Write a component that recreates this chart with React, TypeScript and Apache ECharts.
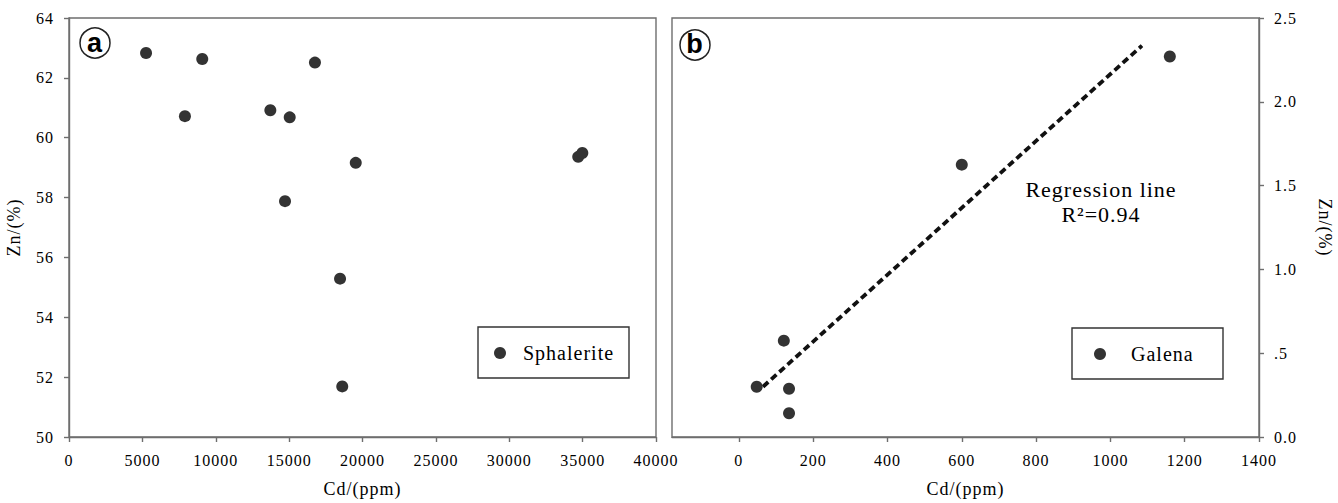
import React, { useEffect, useRef } from "react";
import * as echarts from "echarts";

// Panel (a): sphalerite
const sphaleriteCd = [5250, 9080, 16760, 7900, 13720, 15040, 19540, 14720, 18470, 18620, 34700, 34980];
const sphaleriteZn = [62.83, 62.63, 62.51, 60.72, 60.92, 60.68, 59.16, 57.88, 55.29, 51.69, 59.36, 59.49];

// Panel (b): galena
const galenaCd = [48, 121, 135, 135, 600, 1160];
const galenaZn = [0.3, 0.575, 0.288, 0.142, 1.625, 2.27];

// Regression line end points (panel b)
const regressionCd = [65, 1085];
const regressionZn = [0.3, 2.335];

const leftXTicks = [0, 5000, 10000, 15000, 20000, 25000, 30000, 35000, 40000];
const rightXTicks = [0, 200, 400, 600, 800, 1000, 1200, 1400];

const FONT = "'Liberation Serif', 'Times New Roman', serif";
const AXIS_COLOR = "#6e6e6e";
const TEXT_COLOR = "#000";
const DOT_COLOR = "#333333";

export default function App() {
  const ref = useRef<HTMLDivElement>(null);

  useEffect(() => {
    if (!ref.current) return;
    const chart = echarts.init(ref.current, undefined, { renderer: "svg" });

    const axisCommon = {
      axisLine: { show: true, onZero: false, lineStyle: { color: AXIS_COLOR, width: 1.4 } },
      axisTick: { show: true, inside: false, length: 5, lineStyle: { color: AXIS_COLOR, width: 1.4 } },
      splitLine: { show: false },
      axisLabel: { color: TEXT_COLOR, fontFamily: FONT, fontSize: 16, margin: 15 },
      nameTextStyle: { color: TEXT_COLOR, fontFamily: FONT, fontSize: 18 },
    };

    const option: any = {
      animation: false,
      textStyle: { fontFamily: FONT },
      grid: [
        { left: 69, right: 682, top: 18, bottom: 62, show: true, borderColor: AXIS_COLOR, borderWidth: 1.4 },
        { left: 672, right: 79, top: 18, bottom: 62, show: true, borderColor: AXIS_COLOR, borderWidth: 1.4 },
      ],
      xAxis: [
        {
          ...axisCommon,
          type: "value",
          gridIndex: 0,
          min: 0,
          max: 40000,
          interval: 5000,
          axisTick: { ...axisCommon.axisTick, customValues: leftXTicks },
          axisLabel: { ...axisCommon.axisLabel, customValues: leftXTicks, formatter: (v: number) => String(v) },
          name: "Cd/(ppm)",
          nameLocation: "middle",
          nameGap: 43,
        },
        {
          ...axisCommon,
          type: "value",
          gridIndex: 1,
          min: -180,
          max: 1400,
          axisTick: { ...axisCommon.axisTick, customValues: rightXTicks },
          axisLabel: { ...axisCommon.axisLabel, customValues: rightXTicks, formatter: (v: number) => String(v) },
          name: "Cd/(ppm)",
          nameLocation: "middle",
          nameGap: 43,
        },
      ],
      yAxis: [
        {
          ...axisCommon,
          type: "value",
          gridIndex: 0,
          min: 50,
          max: 64,
          interval: 2,
          name: "Zn/(%)",
          nameLocation: "middle",
          nameGap: 46,
          axisLabel: { ...axisCommon.axisLabel, margin: 15 },
        },
        {
          ...axisCommon,
          type: "value",
          gridIndex: 1,
          position: "right",
          min: 0,
          max: 2.5,
          interval: 0.5,
          name: "Zn/(%)",
          nameLocation: "middle",
          nameGap: 57,
          nameRotate: -90,
          axisLabel: {
            ...axisCommon.axisLabel,
            margin: 15,
            formatter: (v: number) => (v === 0 ? "0.0" : v < 1 ? "." + String(Math.round(v * 10)) : v.toFixed(1)),
          },
        },
      ],
      legend: [
        {
          data: ["Sphalerite"],
          left: 494,
          top: 343,
          padding: 0,
          icon: "circle",
          itemWidth: 12,
          itemHeight: 12,
          selectedMode: false,
          itemStyle: { opacity: 1 },
          textStyle: { color: TEXT_COLOR, fontFamily: FONT, fontSize: 20, padding: [0, 0, 0, 12] },
        },
        {
          data: ["Galena"],
          left: 1094,
          top: 344,
          padding: 0,
          icon: "circle",
          itemWidth: 12,
          itemHeight: 12,
          selectedMode: false,
          itemStyle: { opacity: 1 },
          textStyle: { color: TEXT_COLOR, fontFamily: FONT, fontSize: 20, padding: [0, 0, 0, 20] },
        },
      ],
      series: [
        {
          name: "Sphalerite",
          type: "scatter",
          xAxisIndex: 0,
          yAxisIndex: 0,
          symbol: "circle",
          symbolSize: 12,
          itemStyle: { color: DOT_COLOR, opacity: 1 },
          data: sphaleriteCd.map((c, i) => [c, sphaleriteZn[i]]),
        },
        {
          name: "Regression line",
          type: "line",
          xAxisIndex: 1,
          yAxisIndex: 1,
          symbol: "none",
          lineStyle: { color: "#111", width: 3.8, type: [7, 4] },
          data: regressionCd.map((c, i) => [c, regressionZn[i]]),
          z: 1,
        },
        {
          name: "Galena",
          type: "scatter",
          xAxisIndex: 1,
          yAxisIndex: 1,
          symbol: "circle",
          symbolSize: 12,
          itemStyle: { color: DOT_COLOR, opacity: 1 },
          data: galenaCd.map((c, i) => [c, galenaZn[i]]),
          z: 3,
        },
      ],
      graphic: [
        // legend frames
        { type: "rect", shape: { x: 478, y: 327, width: 151, height: 51 }, style: { fill: "none", stroke: "#333", lineWidth: 1.4 }, z: 0 },
        { type: "rect", shape: { x: 1072, y: 328, width: 151, height: 51 }, style: { fill: "none", stroke: "#333", lineWidth: 1.4 }, z: 0 },
        // panel labels
        { type: "circle", shape: { cx: 95, cy: 43, r: 15 }, style: { fill: "#fff", stroke: "#222", lineWidth: 1.5 } },
        {
          type: "text",
          x: 95,
          y: 43,
          style: { text: "a", fontFamily: "'Liberation Sans', Arial, sans-serif", fontWeight: "bold", fontSize: 27, fill: "#000", align: "center", verticalAlign: "middle" },
        },
        { type: "circle", shape: { cx: 695, cy: 45, r: 15 }, style: { fill: "#fff", stroke: "#222", lineWidth: 1.5 } },
        {
          type: "text",
          x: 695,
          y: 44,
          style: { text: "b", fontFamily: "'Liberation Sans', Arial, sans-serif", fontWeight: "bold", fontSize: 27, fill: "#000", align: "center", verticalAlign: "middle" },
        },
        // regression annotation
        {
          type: "text",
          x: 1101,
          y: 189,
          style: { text: "Regression line", fontFamily: FONT, fontSize: 22, fill: TEXT_COLOR, align: "center", verticalAlign: "middle" },
        },
        {
          type: "text",
          x: 1101,
          y: 214,
          style: { text: "R²=0.94", fontFamily: FONT, fontSize: 22, fill: TEXT_COLOR, align: "center", verticalAlign: "middle" },
        },
      ],
    };

    chart.setOption(option);
    return () => chart.dispose();
  }, []);

  return (
    <div
      ref={ref}
      style={{ position: "fixed", left: 0, top: 0, width: 1338, height: 503, background: "#fff", letterSpacing: "1px" }}
    />
  );
}
